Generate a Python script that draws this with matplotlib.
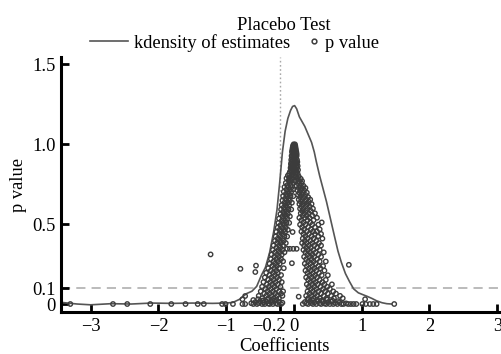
import numpy as np
import matplotlib.pyplot as plt
import matplotlib.transforms as mtransforms
from matplotlib.lines import Line2D

plt.rcParams['font.family'] = ['Liberation Serif', 'DejaVu Serif']
plt.rcParams['font.size'] = 13.3

# kernel density of the placebo estimates
kd_x = [-3.43, -3.2, -3.0, -2.7, -2.4, -2.1, -1.8, -1.5, -1.2, -1.0, -0.9, -0.8,
        -0.7, -0.62, -0.55, -0.48, -0.42, -0.36, -0.30, -0.25, -0.21, -0.17,
        -0.13, -0.09, -0.05, -0.02, 0.01, 0.04, 0.08, 0.12, 0.16, 0.21, 0.26,
        0.30, 0.33, 0.38, 0.43, 0.48, 0.54, 0.60, 0.65, 0.70, 0.76, 0.82, 0.88,
        0.95, 1.02, 1.08, 1.15, 1.22, 1.30, 1.37, 1.44]
kd_y = [0.01, 0.0, -0.005, 0.002, 0.0, 0.006, 0.004, 0.006, 0.004, 0.006, 0.01,
        0.03, 0.065, 0.08, 0.11, 0.18, 0.23, 0.32, 0.45, 0.59, 0.76, 0.95, 1.08,
        1.16, 1.21, 1.235, 1.24, 1.22, 1.17, 1.14, 1.11, 1.06, 1.01, 0.95, 0.89,
        0.80, 0.72, 0.64, 0.53, 0.42, 0.33, 0.26, 0.19, 0.14, 0.095, 0.07, 0.058,
        0.048, 0.035, 0.02, 0.008, 0.002, 0.0]

# estimates vs p value, grouped by p level: (p, [coefficients])
peak_rows = [
    (0.998, [-0.005, 0.015]),
    (0.988, [-0.015, 0.005, 0.02]),
    (0.976, [-0.02, 0.0, 0.025]),
    (0.963, [-0.025, -0.005, 0.015, 0.03]),
    (0.951, [-0.03, 0.005, 0.035]),
    (0.939, [-0.02, 0.0, 0.02, 0.04]),
    (0.926, [-0.035, -0.01, 0.015, 0.04]),
    (0.914, [-0.03, 0.005, 0.03]),
    (0.901, [-0.04, -0.015, 0.01, 0.045]),
    (0.888, [-0.035, 0.0, 0.025, 0.05]),
    (0.876, [-0.045, -0.02, 0.015, 0.04]),
    (0.863, [-0.04, -0.005, 0.03, 0.055]),
    (0.851, [-0.05, -0.025, 0.01, 0.045]),
    (0.838, [-0.045, -0.01, 0.02, 0.06]),
    (0.826, [-0.06, -0.03, 0.005, 0.04]),
    (0.814, [-0.07, -0.015, 0.025, 0.055]),
]
left_rows = [
    (0.803, [-0.09, -0.04, 0.0]),
    (0.786, [-0.11, -0.07, -0.02]),
    (0.771, [-0.08, -0.04, 0.01]),
    (0.757, [-0.12, -0.06, -0.01]),
    (0.742, [-0.10, -0.05]),
    (0.731, [-0.14, -0.08, -0.03]),
    (0.716, [-0.11, -0.06, -0.01]),
    (0.702, [-0.15, -0.09, -0.04]),
    (0.688, [-0.12, -0.07]),
    (0.674, [-0.16, -0.10, -0.05, -0.01]),
    (0.659, [-0.13, -0.08]),
    (0.647, [-0.17, -0.11, -0.06]),
    (0.633, [-0.14, -0.09, -0.03]),
    (0.618, [-0.18, -0.12, -0.07]),
    (0.604, [-0.15, -0.10]),
    (0.591, [-0.19, -0.13, -0.08, -0.04]),
    (0.577, [-0.16, -0.11]),
    (0.562, [-0.20, -0.14, -0.09]),
    (0.548, [-0.17, -0.12, -0.06]),
    (0.534, [-0.22, -0.15, -0.10]),
    (0.521, [-0.18, -0.13]),
    (0.507, [-0.23, -0.16, -0.11, -0.07]),
    (0.493, [-0.20, -0.14]),
    (0.478, [-0.24, -0.17, -0.12]),
    (0.464, [-0.21, -0.15, -0.09]),
    (0.451, [-0.26, -0.19, -0.13]),
    (0.437, [-0.22, -0.16]),
    (0.422, [-0.27, -0.20, -0.14, -0.10]),
    (0.408, [-0.24, -0.17]),
    (0.395, [-0.28, -0.21, -0.15]),
    (0.381, [-0.25, -0.19, -0.12]),
    (0.366, [-0.30, -0.22, -0.16]),
    (0.352, [-0.26, -0.20]),
    (0.338, [-0.31, -0.23, -0.17]),
    (0.323, [-0.28, -0.21, -0.14]),
    (0.309, [-0.33, -0.25, -0.18]),
    (0.296, [-0.29, -0.22]),
    (0.281, [-0.34, -0.26, -0.19]),
    (0.267, [-0.30, -0.23, -0.16]),
    (0.252, [-0.36, -0.28, -0.21]),
    (0.238, [-0.32, -0.25]),
    (0.224, [-0.38, -0.29, -0.22, -0.15]),
    (0.209, [-0.34, -0.26]),
    (0.195, [-0.41, -0.31, -0.24]),
    (0.181, [-0.36, -0.28, -0.19]),
    (0.166, [-0.43, -0.33, -0.25]),
    (0.152, [-0.38, -0.30, -0.22]),
    (0.137, [-0.45, -0.35, -0.27, -0.18]),
    (0.123, [-0.40, -0.32, -0.24]),
    (0.108, [-0.47, -0.37, -0.29, -0.20]),
    (0.094, [-0.42, -0.34, -0.26]),
    (0.079, [-0.49, -0.39, -0.31, -0.22, -0.16]),
    (0.065, [-0.44, -0.36, -0.28, -0.19]),
    (0.051, [-0.52, -0.41, -0.33, -0.25, -0.17]),
    (0.036, [-0.47, -0.38, -0.30, -0.22]),
]
right_rows = [
    (0.798, [0.03, 0.07]),
    (0.783, [0.05, 0.10]),
    (0.768, [0.02, 0.08, 0.12]),
    (0.754, [0.06, 0.11]),
    (0.739, [0.04, 0.09, 0.14]),
    (0.725, [0.07, 0.12, 0.17]),
    (0.711, [0.05, 0.10, 0.15]),
    (0.696, [0.08, 0.13, 0.19]),
    (0.682, [0.06, 0.11, 0.17]),
    (0.668, [0.09, 0.14, 0.21]),
    (0.653, [0.07, 0.12, 0.18, 0.24]),
    (0.639, [0.10, 0.16, 0.22]),
    (0.625, [0.08, 0.13, 0.19, 0.26]),
    (0.610, [0.11, 0.17, 0.23]),
    (0.596, [0.09, 0.14, 0.20, 0.28]),
    (0.582, [0.12, 0.18, 0.25]),
    (0.567, [0.10, 0.15, 0.22, 0.31]),
    (0.553, [0.13, 0.19, 0.27]),
    (0.539, [0.08, 0.16, 0.23, 0.34]),
    (0.524, [0.11, 0.20, 0.29]),
    (0.510, [0.14, 0.24, 0.41]),
    (0.496, [0.09, 0.17, 0.27, 0.36]),
    (0.481, [0.12, 0.21, 0.31]),
    (0.467, [0.15, 0.25, 0.38]),
    (0.453, [0.11, 0.19, 0.28, 0.34]),
    (0.438, [0.14, 0.22, 0.31, 0.40]),
    (0.424, [0.17, 0.26, 0.36]),
    (0.409, [0.13, 0.20, 0.29, 0.42]),
    (0.395, [0.16, 0.24, 0.33]),
    (0.381, [0.12, 0.19, 0.27, 0.37]),
    (0.366, [0.15, 0.22, 0.30, 0.40]),
    (0.352, [0.18, 0.25, 0.34]),
    (0.338, [0.14, 0.21, 0.29, 0.38]),
    (0.323, [0.17, 0.24, 0.32, 0.44]),
    (0.309, [0.20, 0.27, 0.36]),
    (0.295, [0.15, 0.23, 0.30, 0.40]),
    (0.280, [0.18, 0.26, 0.34]),
    (0.266, [0.21, 0.29, 0.38, 0.47]),
    (0.252, [0.16, 0.24, 0.32]),
    (0.237, [0.19, 0.27, 0.36, 0.43]),
    (0.223, [0.22, 0.30, 0.39]),
    (0.209, [0.17, 0.25, 0.33, 0.45]),
    (0.194, [0.20, 0.28, 0.37]),
    (0.180, [0.23, 0.31, 0.41, 0.50]),
    (0.166, [0.18, 0.26, 0.34]),
    (0.151, [0.21, 0.29, 0.38, 0.47]),
    (0.137, [0.24, 0.32, 0.42]),
    (0.123, [0.19, 0.27, 0.35, 0.45, 0.56]),
    (0.108, [0.22, 0.30, 0.39, 0.49]),
    (0.094, [0.25, 0.33, 0.43, 0.53]),
    (0.079, [0.20, 0.28, 0.36, 0.46, 0.58]),
    (0.065, [0.23, 0.31, 0.40, 0.50, 0.62]),
    (0.051, [0.18, 0.26, 0.34, 0.44, 0.55, 0.68]),
    (0.036, [0.21, 0.29, 0.38, 0.48, 0.59, 0.72]),
]
middle_rows = [
    (0.45, [-0.02]),
    (0.345, [-0.10, -0.06, -0.01, 0.04]),
    (0.255, [-0.03]),
    (0.046, [0.07]),
]
base_coef = [-0.63, -0.60, -0.57, -0.545, -0.52, -0.50, -0.47, -0.45, -0.43, -0.40,
             -0.38, -0.36, -0.335, -0.31, -0.29, -0.265, -0.24, -0.22, -0.19, -0.17,
             -0.60, -0.53, -0.46, -0.39, -0.32, -0.26,
             0.13, 0.16, 0.185, 0.21, 0.235, 0.26, 0.28, 0.305, 0.33, 0.355,
             0.38, 0.40, 0.425, 0.45, 0.475, 0.50, 0.53, 0.555, 0.58, 0.61,
             0.64, 0.67, 0.70, 0.73, 0.77, 0.80, 0.84, 0.88, 0.92,
             0.20, 0.27, 0.34, 0.41, 0.49, 0.57, 0.65]
base_pval = [0.005, 0.0, 0.012, 0.0, 0.006, 0.018, 0.0, 0.009, 0.0, 0.014,
             0.003, 0.0, 0.011, 0.0, 0.02, 0.004, 0.0, 0.013, 0.0, 0.008,
             0.025, 0.03, 0.022, 0.027, 0.024, 0.028,
             0.0, 0.012, 0.004, 0.0, 0.016, 0.007, 0.0, 0.01, 0.0, 0.019,
             0.005, 0.0, 0.013, 0.003, 0.0, 0.009, 0.0, 0.015, 0.0, 0.006,
             0.0, 0.011, 0.0, 0.0, 0.004, 0.0, 0.0, 0.0, 0.0,
             0.026, 0.024, 0.029, 0.022, 0.027, 0.021, 0.018]
tail_coef = [-3.30, -2.67, -2.46, -2.12, -1.81, -1.60, -1.42, -1.33, -1.06, -1.01,
             -0.90, -0.76, -0.72, -0.76, -0.72, 1.01, 1.06, 1.12, 1.17, 1.22,
             1.48, 1.05, -1.23, -0.79, -0.56, -0.57, 0.81]
tail_pval = [0.0, 0.0, 0.0, 0.0, 0.0, 0.0, 0.0, 0.0, 0.0, 0.0,
             0.0, 0.0, 0.0, 0.03, 0.05, 0.0, 0.0, 0.0, 0.0, 0.0,
             0.0, 0.03, 0.31, 0.22, 0.24, 0.20, 0.245]

coef = list(base_coef) + list(tail_coef)
pval = list(base_pval) + list(tail_pval)
for rows in (peak_rows, left_rows, right_rows, middle_rows):
    for p, xs in rows:
        coef += xs
        pval += [p] * len(xs)

x_ticks = [-3, -2, -1, -0.2, 0, 1, 2, 3]
x_labels = ['\u22123', '\u22122', '\u22121', '\u22120.2', '0', '1', '2', '3']
y_ticks = [0, 0.1, 0.5, 1.0, 1.5]
y_labels = ['0', '0.1', '0.5', '1.0', '1.5']

fig = plt.figure(figsize=(5.02, 3.54), dpi=100)
ax = fig.add_axes([0.1225, 0.1186, 0.8775, 0.7204])

ax.axvline(-0.2, color='#a8a8a8', ls=(0, (1.2, 1.8)), lw=1.0, zorder=1)
ax.axhline(0.1, color='#a8a8a8', ls=(0, (6, 4)), lw=1.1, zorder=1)
kd_line, = ax.plot(kd_x, kd_y, color='#555555', lw=1.2, zorder=2)
ax.scatter(coef, pval, s=10, facecolors='none', edgecolors='#3c3c3c',
           linewidths=1.0, zorder=3)

ax.set_xlim(-3.43, 3.07)
ax.set_ylim(-0.05, 1.544)
ax.set_xticks(x_ticks)
ax.set_xticklabels(x_labels)
ax.set_yticks(y_ticks)
ax.set_yticklabels(y_labels)

for side in ('top', 'right'):
    ax.spines[side].set_visible(False)
for side in ('left', 'bottom'):
    ax.spines[side].set_linewidth(2.2)
ax.tick_params(direction='in', length=6, width=2, color='black', pad=4)
ax.tick_params(axis='x', pad=4)

# the -0.2 label sits a bit to the left of its tick, next to the 0
lab = ax.get_xticklabels()[3]
lab.set_transform(lab.get_transform()
                  + mtransforms.ScaledTranslation(-0.11, 0, fig.dpi_scale_trans))

ax.set_xlabel('Coefficients')
ax.xaxis.set_label_coords(0.505, -0.10)
ax.xaxis.label.set_va('top')
ax.set_ylabel('p value')

fig.text(284 / 502, 1 - 25 / 354, 'Placebo Test', ha='center', va='center')

# two one-entry legends so each handle gets its own length
leg1 = fig.legend([kd_line], ['kdensity of estimates'], loc='center left',
                  bbox_to_anchor=(90 / 502, 1 - 43 / 354), frameon=False,
                  borderpad=0, borderaxespad=0, handlelength=2.05,
                  handletextpad=0.32)
dot = Line2D([], [], ls='none', marker='o', ms=3.4, mfc='none', mec='#3c3c3c',
             mew=1.1)
leg2 = fig.legend([dot], ['p value'], loc='center left',
                  bbox_to_anchor=(309.4 / 502, 1 - 43 / 354), frameon=False,
                  borderpad=0, borderaxespad=0, handlelength=0.5,
                  handletextpad=0.32)

fig.savefig('out.png', dpi=100)
